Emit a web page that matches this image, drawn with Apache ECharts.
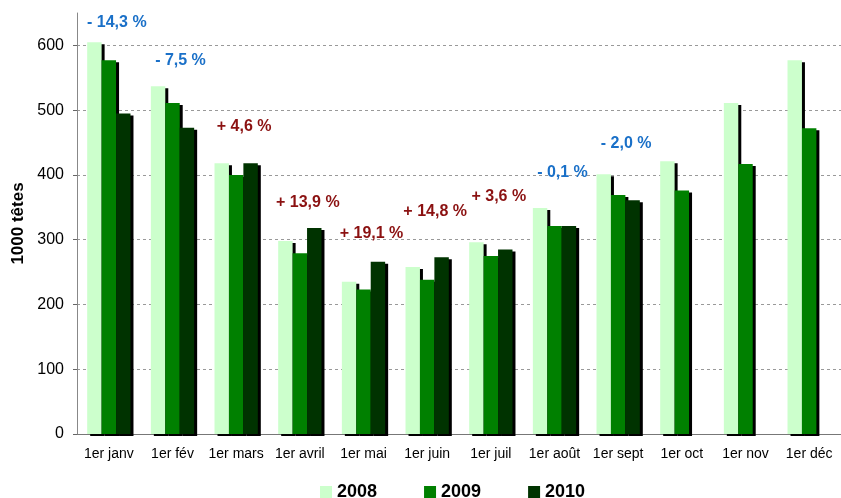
<!DOCTYPE html>
<html>
<head>
<meta charset="utf-8">
<script src="https://cdn.jsdelivr.net/npm/echarts@6/dist/echarts.min.js"></script>
<style>
  html, body { margin: 0; padding: 0; background: #fff; }
  #chart { width: 841px; height: 498px; }
</style>
</head>
<body>
<div id="chart"></div>
<script>
// mois
var months = ['1er janv', '1er fév', '1er mars', '1er avril', '1er mai', '1er juin',
              '1er juil', '1er août', '1er sept', '1er oct', '1er nov', '1er déc'];

// effectifs (1000 têtes)
var v2008 = [605, 537, 418, 298, 235, 258, 296, 349, 401, 421, 511, 577];
var v2009 = [577, 511, 400, 279, 223, 238, 275, 321, 369, 376, 417, 472];
var v2010 = [495, 473, 418, 318, 266, 273, 285, 321, 361, null, null, null];

// évolution 2010 / 2009
var pctText = ['- 14,3 %', '- 7,5 %', '+ 4,6 %', '+ 13,9 %', '+ 19,1 %',
               '+ 14,8 %', '+ 3,6 %', '- 0,1 %', '- 2,0 %'];
var pctAt = [635, 576, 474, 357, 310, 344, 366, 403, 449];

var yTicks = [0, 100, 200, 300, 400, 500, 600];

var chart = echarts.init(document.getElementById('chart'));

var shadow = {
    shadowColor: '#000',
    shadowBlur: 0,
    shadowOffsetX: 3,
    shadowOffsetY: 2
};

function barSerie(name, data, color) {
    return {
        name: name,
        type: 'bar',
        data: data,
        barGap: '0%',
        barCategoryGap: '32%',
        itemStyle: Object.assign({ color: color }, shadow)
    };
}

var pctData = pctText.map(function (t, i) {
    return {
        value: [i, pctAt[i]],
        label: { color: t.charAt(0) === '-' ? '#1a70c8' : '#8b1111' }
    };
});

var option = {
    animation: false,
    grid: { left: 77, right: -3, top: 13, bottom: 64 },
    legend: {
        data: ['2008', '2009', '2010'],
        left: 315,
        top: 478,
        icon: 'rect',
        itemWidth: 12,
        itemHeight: 12,
        itemGap: 47,
        textStyle: { fontFamily: 'Liberation Sans, Arial', fontWeight: 'bold', fontSize: 18, color: '#000' }
    },
    xAxis: {
        type: 'category',
        data: months,
        axisLine: { lineStyle: { color: '#777', width: 1 } },
        axisTick: { length: 4, lineStyle: { color: '#555' } },
        axisLabel: { interval: 0, margin: 13, fontSize: 14, color: '#000', fontFamily: 'Liberation Sans, Arial' }
    },
    yAxis: {
        type: 'value',
        min: 0,
        max: 650,
        interval: 100,
        name: '1000 têtes',
        nameLocation: 'middle',
        nameGap: 47,
        nameTextStyle: { fontFamily: 'Liberation Sans, Arial', fontWeight: 'bold', fontSize: 17, color: '#000' },
        axisLine: { show: true, lineStyle: { color: '#888' } },
        axisTick: { show: true, length: 4, lineStyle: { color: '#666' } },
        axisLabel: {
            showMaxLabel: false,
            margin: 13,
            fontSize: 16,
            color: '#000',
            fontFamily: 'Liberation Sans, Arial',
            formatter: function (v) { return yTicks.indexOf(v) >= 0 ? String(v) : ''; }
        },
        splitLine: {
            showMaxLine: false,
            lineStyle: { color: '#999', type: [3, 3], width: 1 }
        }
    },
    series: [
        barSerie('2008', v2008, '#ccffcc'),
        barSerie('2009', v2009, '#008000'),
        barSerie('2010', v2010, '#003300'),
        {
            name: 'evolution',
            type: 'scatter',
            data: pctData,
            symbolSize: 1,
            itemStyle: { color: 'rgba(0,0,0,0)', opacity: 1 },
            z: 5,
            label: {
                show: true,
                position: 'inside',
                offset: [8, 0],
                opacity: 1,
                fontFamily: 'Liberation Sans, Arial',
                fontWeight: 'bold',
                fontSize: 16,
                formatter: function (p) { return pctText[p.dataIndex]; }
            }
        }
    ]
};

chart.setOption(option);
</script>
</body>
</html>
